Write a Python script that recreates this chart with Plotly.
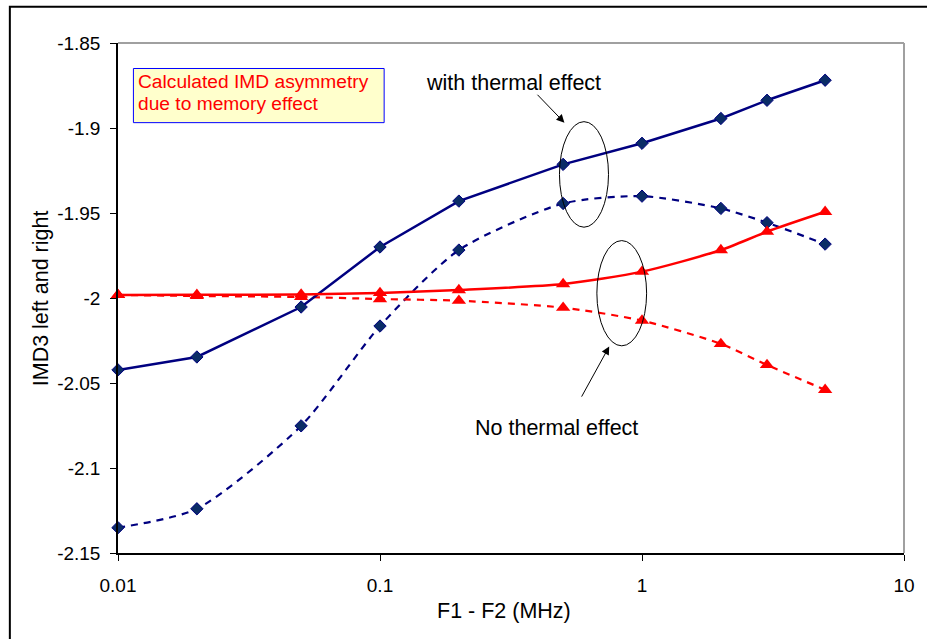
import plotly.graph_objects as go

freq = [0.01, 0.02, 0.05, 0.1, 0.2, 0.5, 1, 2, 3, 5]
thermal_solid = [-2.0423, -2.0347, -2.0053, -1.9700, -1.9430, -1.9214, -1.9090, -1.8944, -1.8837, -1.8719]
thermal_dash = [-2.1351, -2.1240, -2.0752, -2.0165, -1.9718, -1.9444, -1.9401, -1.9473, -1.9557, -1.9683]
nothermal_solid = [-1.9982, -1.9981, -1.9979, -1.9970, -1.9953, -1.9918, -1.9845, -1.9718, -1.9610, -1.9493]
nothermal_dash = [-1.9982, -1.9988, -1.9994, -2.0006, -2.0016, -2.0057, -2.0133, -2.0270, -2.0394, -2.0540]

y_ticks = [-2.15, -2.1, -2.05, -2.0, -1.95, -1.9, -1.85]
y_tick_text = ["-2.15", "-2.1", "-2.05", "-2", "-1.95", "-1.9", "-1.85"]
x_ticks = [0.01, 0.1, 1, 10]
x_tick_text = ["0.01", "0.1", "1", "10"]

W, H = 927, 639
L, R, T, B = 118, 908, 43, 553.3
FONT = "Liberation Sans, Arial, sans-serif"


def px(x):
    return (x - L) / (R - L)


def py(y):
    return (B - y) / (B - T)


NAVY = "#000080"
RED = "#FF0000"
DIAMOND = dict(symbol="diamond", size=9.5, color="#0a2c66", line=dict(color=NAVY, width=1))
TRIANGLE = dict(symbol="triangle-up", size=12.5, color=RED)

fig = go.Figure()
fig.add_trace(go.Scatter(x=freq, y=thermal_dash, mode="lines+markers",
                         line=dict(color=NAVY, width=2.2, dash="7px,6px", shape="spline", smoothing=0.7),
                         marker=DIAMOND, cliponaxis=False, showlegend=False))
fig.add_trace(go.Scatter(x=freq, y=nothermal_dash, mode="lines+markers",
                         line=dict(color=RED, width=2.2, dash="7px,6px", shape="spline", smoothing=0.7),
                         marker=TRIANGLE, cliponaxis=False, showlegend=False))
fig.add_trace(go.Scatter(x=freq, y=thermal_solid, mode="lines+markers",
                         line=dict(color=NAVY, width=2.5),
                         marker=DIAMOND, cliponaxis=False, showlegend=False))
fig.add_trace(go.Scatter(x=freq, y=nothermal_solid, mode="lines+markers",
                         line=dict(color=RED, width=2.5, shape="spline", smoothing=0.7),
                         marker=TRIANGLE, cliponaxis=False, showlegend=False))

shapes = [
    # outer chart border
    dict(type="rect", xref="paper", yref="paper", x0=px(9.3), x1=px(935), y0=py(660), y1=py(6.8),
         line=dict(color="black", width=2), layer="below"),
    # plot area gray border top & right
    dict(type="line", xref="paper", yref="paper", x0=0, x1=1, y0=1, y1=1, line=dict(color="#A0A0A0", width=2)),
    dict(type="line", xref="paper", yref="paper", x0=1, x1=1, y0=0, y1=1, line=dict(color="#A0A0A0", width=2)),
    # text box
    dict(type="rect", xref="paper", yref="paper", x0=px(133.5), x1=px(385.5), y0=py(122.7), y1=py(68.5),
         fillcolor="#FFFFCC", line=dict(color="#0000FF", width=1), layer="below"),
    # ellipses
    dict(type="circle", xref="paper", yref="paper", x0=px(561.7), x1=px(611), y0=py(227.3), y1=py(121.7),
         line=dict(color="black", width=1)),
    dict(type="circle", xref="paper", yref="paper", x0=px(599.3), x1=px(649.3), y0=py(346), y1=py(240.7),
         line=dict(color="black", width=1)),
]

annotations = [
    dict(text="Calculated IMD asymmetry", xref="paper", yref="paper", x=px(136.5), y=py(82),
         xanchor="left", yanchor="middle", showarrow=False, font=dict(family=FONT, size=19.2, color=RED)),
    dict(text="due to memory effect", xref="paper", yref="paper", x=px(136.5), y=py(104),
         xanchor="left", yanchor="middle", showarrow=False, font=dict(family=FONT, size=19.2, color=RED)),
    dict(text="with thermal effect", xref="paper", yref="paper", x=px(515.5), y=py(83),
         xanchor="center", yanchor="middle", showarrow=False, font=dict(family=FONT, size=21.5, color="black")),
    dict(text="No thermal effect", xref="paper", yref="paper", x=px(559), y=py(428),
         xanchor="center", yanchor="middle", showarrow=False, font=dict(family=FONT, size=21.5, color="black")),
    dict(text="", xref="paper", yref="paper", x=px(566.7), y=py(122.7), ax=538.3 - 566.7, ay=93.3 - 122.7,
         showarrow=True, arrowhead=2, arrowsize=1.6, arrowwidth=1, arrowcolor="black", standoff=0),
    dict(text="", xref="paper", yref="paper", x=px(611.7), y=py(346.7), ax=583.3 - 611.7, ay=398.3 - 346.7,
         showarrow=True, arrowhead=2, arrowsize=1.6, arrowwidth=1, arrowcolor="black", standoff=0),
    dict(text="IMD3 left and right", xref="paper", yref="paper", x=px(40), y=py(298), textangle=-90,
         xanchor="center", yanchor="middle", showarrow=False, font=dict(family=FONT, size=21.5, color="black")),
    dict(text="F1 - F2 (MHz)", xref="paper", yref="paper", x=px(505.5), y=py(611),
         xanchor="center", yanchor="middle", showarrow=False, font=dict(family=FONT, size=21.5, color="black")),
]

fig.update_layout(
    width=W, height=H,
    margin=dict(l=L, r=W - R, t=T, b=H - B),
    paper_bgcolor="white", plot_bgcolor="white",
    shapes=shapes, annotations=annotations,
    xaxis=dict(type="log", range=[-2, 1], tickvals=x_ticks, ticktext=x_tick_text,
               showgrid=False, zeroline=False, showline=True, linecolor="black", linewidth=1.5,
               ticks="outside", ticklen=6, tickcolor="black", tickwidth=1,
               tickfont=dict(family=FONT, size=19, color="black"), ticklabelstandoff=8),
    yaxis=dict(range=[-2.15, -1.85], tickvals=y_ticks, ticktext=y_tick_text,
               showgrid=False, zeroline=False, showline=True, linecolor="black", linewidth=1.5,
               ticks="outside", ticklen=6, tickcolor="black", tickwidth=1,
               tickfont=dict(family=FONT, size=19, color="black"), ticklabelstandoff=6),
)

fig.write_html("out.html")
